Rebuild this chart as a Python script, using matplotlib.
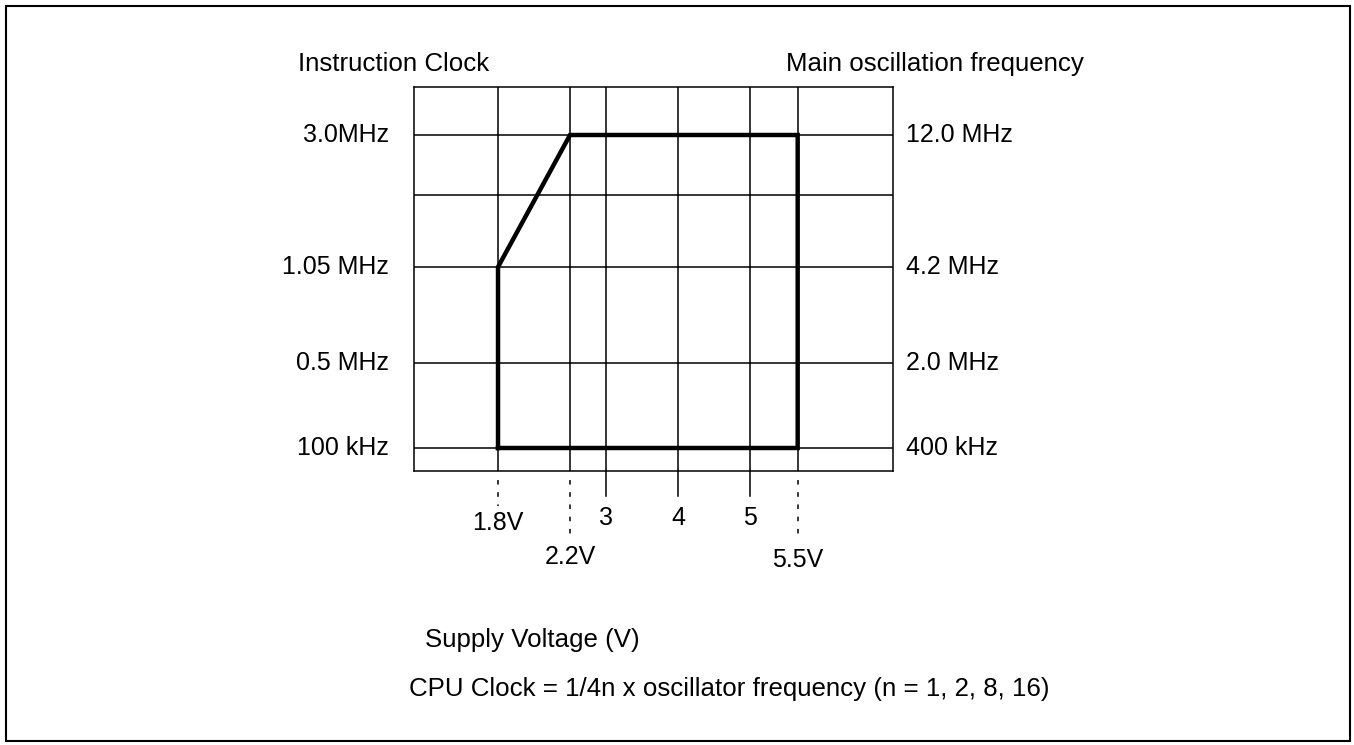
import numpy as np
import matplotlib.pyplot as plt
import matplotlib.transforms as mtransforms
from matplotlib.patches import Rectangle

plt.rcParams['font.family'] = ['Liberation Sans', 'DejaVu Sans']
FS = 18
FS_TITLE = 18.6

# operating area (supply voltage in V, instruction clock in MHz)
area_volts = [1.8, 1.8, 2.2, 5.5, 5.5, 1.8]
area_clock = [0.1, 1.05, 3.0, 3.0, 0.1, 0.1]

# grid levels on both axes
volt_ticks = [1.8, 2.2, 3, 4, 5, 5.5]
volt_labels = ['1.8V', '2.2V', '3', '4', '5', '5.5V']
clock_levels = [0.1, 0.5, 1.05, 2.0, 3.0]
clock_labels = ['100 kHz', '0.5 MHz', '1.05 MHz', '', '3.0MHz']
osc_labels = ['400 kHz', '2.0 MHz', '4.2 MHz', '', '12.0 MHz']

# the diagram is drawn schematic, not to scale: piecewise scales
x_knots = [1.2, 1.8, 2.2, 3, 4, 5, 5.5, 6.4]
x_frac = [0, 0.1754, 0.3257, 0.4008, 0.5511, 0.7015, 0.801, 1.0]
y_knots = [0, 0.1, 0.5, 1.05, 2.0, 3.0, 3.6]
y_frac = [0, 0.0599, 0.2813, 0.5313, 0.7188, 0.875, 1.0]


def make_scale(knots, frac):
    fwd = lambda v: np.interp(v, knots, frac)
    inv = lambda p: np.interp(p, frac, knots)
    return fwd, inv


W, H = 1354, 745
fig = plt.figure(figsize=(W / 100, H / 100), dpi=100)

# outer frame
fig.patches.append(Rectangle((6 / W, 4 / H), 1344 / W, 735 / H, transform=fig.transFigure,
                             fill=False, edgecolor='black', linewidth=1.5))

ax = fig.add_axes([414 / W, (H - 471) / H, 479 / W, 384 / H])
ax.set_xscale('function', functions=make_scale(x_knots, x_frac))
ax.set_yscale('function', functions=make_scale(y_knots, y_frac))
ax.set_xlim(x_knots[0], x_knots[-1])
ax.set_ylim(y_knots[0], y_knots[-1])
ax.set_xticks([])
ax.set_yticks([])
ax.minorticks_off()
for s in ax.spines.values():
    s.set_linewidth(1.1)

for v in volt_ticks:
    ax.axvline(v, color='black', lw=1.1, zorder=1)
for f in clock_levels:
    ax.axhline(f, color='black', lw=1.1, zorder=1)

ax.plot(area_volts, area_clock, color='black', lw=3.2, zorder=3,
        solid_joinstyle='miter', solid_capstyle='projecting')

# leaders and labels below the box
trans = mtransforms.blended_transform_factory(ax.transData, ax.transAxes)
dotted_end = {1.8: -0.090, 2.2: -0.180, 5.5: -0.172}
label_y = {1.8: -0.135, 2.2: -0.224, 5.5: -0.232}
for v, lab in zip(volt_ticks, volt_labels):
    if v in dotted_end:
        ax.plot([v, v], [-0.023, dotted_end[v]], transform=trans, clip_on=False,
                color='black', lw=1.1, linestyle=(0, (3, 5)))
        ty = label_y[v]
    else:
        ax.plot([v, v], [0, -0.065], transform=trans, clip_on=False, color='black', lw=1.1)
        ty = -0.122
    ax.text(v, ty, lab, transform=trans, ha='center', va='center', fontsize=FS)

# frequency labels on both sides
ytrans = mtransforms.blended_transform_factory(ax.transAxes, ax.transData)
for f, left, right in zip(clock_levels, clock_labels, osc_labels):
    if left:
        ax.text(-0.052, f, left, transform=ytrans, ha='right', va='center', fontsize=FS)
    if right:
        ax.text(1.027, f, right, transform=ytrans, ha='left', va='center', fontsize=FS)

fig.text(298 / W, 1 - 64 / H, 'Instruction Clock', ha='left', va='center', fontsize=FS_TITLE)
fig.text(1084 / W, 1 - 64 / H, 'Main oscillation frequency', ha='right', va='center',
         fontsize=FS_TITLE)
fig.text(425 / W, 1 - 640 / H, 'Supply Voltage (V)', ha='left', va='center', fontsize=FS_TITLE)
fig.text(409 / W, 1 - 689 / H, 'CPU Clock = 1/4n x oscillator frequency (n = 1, 2, 8, 16)',
         ha='left', va='center', fontsize=FS_TITLE)

fig.savefig('out.png', dpi=100)
